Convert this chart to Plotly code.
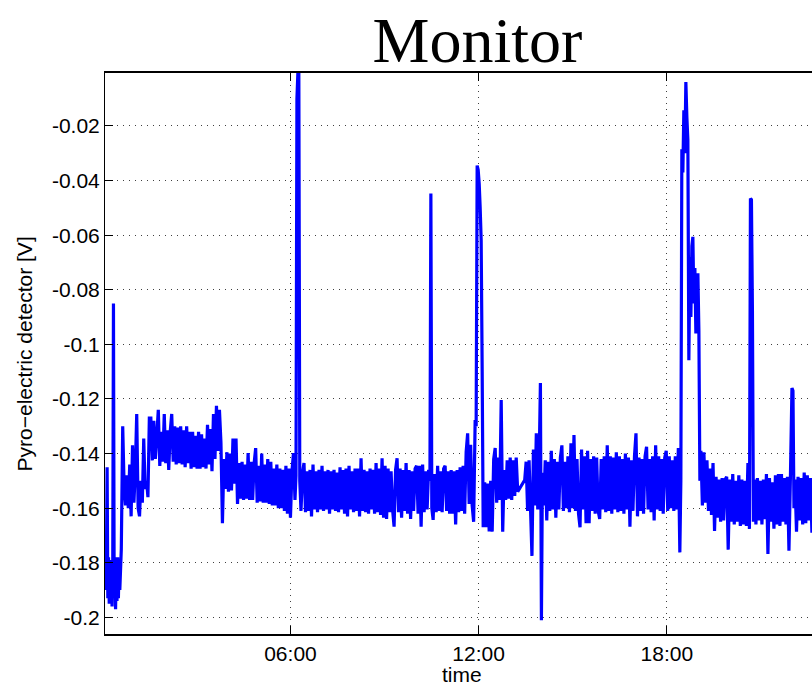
import pandas as pd
import plotly.graph_objects as go

BASE_DAY = "2013-01-01"

# ---- data: (start hour, end hour, sampled values) ------------------------
seg_a_hours = (0.086, 0.558)
seg_a_vals = [-0.174, -0.190, -0.180, -0.145, -0.193, -0.178, -0.195, -0.180,
              -0.192, -0.179, -0.196, -0.181, -0.085, -0.191, -0.178, -0.197,
              -0.180, -0.194, -0.178, -0.193, -0.180, -0.190]

seg_b_hours = (0.606, 1.500)
seg_b_vals = [-0.175, -0.130, -0.152, -0.159, -0.148, -0.160, -0.144, -0.163,
              -0.137, -0.158, -0.146, -0.1255, -0.160, -0.163, -0.150, -0.158,
              -0.1345, -0.153, -0.150, -0.156, -0.127]

seg_c_hours = (1.548, 3.878)
seg_c_vals = [-0.127, -0.1425, -0.128, -0.142, -0.1335, -0.124, -0.1445, -0.132,
              -0.143, -0.1255, -0.1435, -0.1315, -0.146, -0.132, -0.1255, -0.143,
              -0.130, -0.144, -0.1305, -0.1435, -0.130, -0.144, -0.1315, -0.145,
              -0.130, -0.1435, -0.132, -0.1455, -0.132, -0.145, -0.1335, -0.1455,
              -0.132, -0.1455, -0.133, -0.145, -0.1345, -0.1455, -0.1295, -0.144,
              -0.131, -0.1465, -0.1255, -0.142, -0.1225, -0.139, -0.124, -0.136,
              -0.1655, -0.142]

seg_d_hours = (3.926, 6.144)
seg_d_vals = [-0.153, -0.1395, -0.154, -0.140, -0.1535, -0.1345, -0.151, -0.1345,
              -0.1585, -0.1435, -0.1565, -0.143, -0.157, -0.144, -0.1565, -0.1398,
              -0.157, -0.143, -0.157, -0.1435, -0.138, -0.158, -0.1445, -0.1575,
              -0.140, -0.158, -0.144, -0.158, -0.142, -0.1585, -0.143, -0.159,
              -0.1455, -0.159, -0.144, -0.160, -0.1455, -0.160, -0.146, -0.161,
              -0.1445, -0.162, -0.1455, -0.1635, -0.1465, -0.1398, -0.157]

spike_0610_hours = (6.176, 6.297)
spike_0610_vals = [-0.148, -0.010, -0.0005, -0.0005, -0.150]

seg_e_hours = (6.336, 10.405)
seg_e_vals = [-0.161, -0.147, -0.1435, -0.1615, -0.1465, -0.161, -0.146, -0.163,
              -0.144, -0.1605, -0.1465, -0.1615, -0.146, -0.1605, -0.1445, -0.161,
              -0.1465, -0.1605, -0.146, -0.162, -0.1465, -0.1605, -0.146, -0.161,
              -0.147, -0.1615, -0.145, -0.1605, -0.146, -0.162, -0.1455, -0.163,
              -0.1445, -0.1605, -0.1465, -0.1615, -0.1455, -0.161, -0.1455, -0.163,
              -0.1417, -0.161, -0.146, -0.1615, -0.1465, -0.162, -0.1455, -0.1605,
              -0.146, -0.162, -0.1435, -0.1615, -0.1455, -0.1625, -0.1417, -0.1635,
              -0.1445, -0.164, -0.1455, -0.1615, -0.1465, -0.1605, -0.1668, -0.146,
              -0.1417, -0.1615, -0.1455, -0.1635, -0.146, -0.161, -0.1435, -0.162,
              -0.146, -0.164, -0.1465, -0.161, -0.1455, -0.1445, -0.162, -0.1445,
              -0.1668, -0.144, -0.1615, -0.1465, -0.1605, -0.146]

spike_1028_hours = (10.447, 10.507)
spike_1028_vals = [-0.150, -0.0447, -0.160]

seg_f_hours = (10.549, 11.889)
seg_f_vals = [-0.1643, -0.1475, -0.1615, -0.1445, -0.161, -0.1465, -0.1615, -0.1455,
              -0.1445, -0.161, -0.1465, -0.162, -0.146, -0.162, -0.1465, -0.166,
              -0.146, -0.1615, -0.145, -0.161, -0.1445, -0.162, -0.1395, -0.1326,
              -0.1585, -0.1368, -0.159, -0.165, -0.1277]

spike_1200_hours = (11.921, 12.145)
spike_1200_vals = [-0.130, -0.0345, -0.036, -0.041, -0.050, -0.062, -0.110, -0.167]

seg_g_hours = (12.193, 13.246)
seg_g_vals = [-0.1505, -0.167, -0.151, -0.1685, -0.150, -0.1686, -0.142, -0.138,
              -0.158, -0.1415, -0.157, -0.1204, -0.1686, -0.146, -0.157, -0.1425,
              -0.1565, -0.1415, -0.157, -0.1425, -0.1555, -0.1415, -0.154]

seg_h_hours = (13.469, 13.932)
seg_h_vals = [-0.1497, -0.143, -0.161, -0.1425, -0.160, -0.1775, -0.1385, -0.159,
              -0.1326, -0.1605, -0.142]

spike_1400_hours = (13.970, 14.034)
spike_1400_vals = [-0.1142, -0.2011, -0.147]

seg_i_hours = (14.076, 18.416)
seg_i_vals = [-0.159, -0.1425, -0.1645, -0.143, -0.161, -0.139, -0.1605, -0.142,
              -0.1635, -0.143, -0.1605, -0.1415, -0.137, -0.161, -0.143, -0.160,
              -0.141, -0.1615, -0.1362, -0.160, -0.1332, -0.161, -0.142, -0.162,
              -0.167, -0.1385, -0.1605, -0.141, -0.1655, -0.139, -0.1655, -0.142,
              -0.161, -0.141, -0.162, -0.1415, -0.161, -0.164, -0.142, -0.1605,
              -0.141, -0.1615, -0.137, -0.161, -0.141, -0.162, -0.1415, -0.1605,
              -0.1395, -0.1615, -0.141, -0.161, -0.142, -0.162, -0.140, -0.1605,
              -0.1415, -0.1668, -0.1425, -0.161, -0.141, -0.1326, -0.163, -0.1415,
              -0.161, -0.142, -0.162, -0.141, -0.1375, -0.1605, -0.142, -0.1615,
              -0.141, -0.1645, -0.137, -0.1605, -0.141, -0.161, -0.142, -0.162,
              -0.1415, -0.139, -0.161, -0.141, -0.160, -0.1425, -0.161, -0.141,
              -0.1605, -0.138, -0.1762]

spike_1830_hours = (18.448, 19.055)
spike_1830_vals = [-0.150, -0.0285, -0.037, -0.0143, -0.030, -0.0039, -0.0167, -0.0252,
                   -0.1058, -0.068, -0.090, -0.064, -0.0606, -0.085, -0.072, -0.096,
                   -0.078, -0.074, -0.095, -0.150]

seg_j_hours = (19.087, 20.635)
seg_j_vals = [-0.139, -0.159, -0.1395, -0.158, -0.1425, -0.161, -0.1455, -0.1625,
              -0.1435, -0.1684, -0.1485, -0.1635, -0.1495, -0.165, -0.149, -0.1645,
              -0.1495, -0.1485, -0.1752, -0.1495, -0.165, -0.1475, -0.166, -0.150,
              -0.165, -0.148, -0.1665, -0.1495, -0.166, -0.150, -0.1665, -0.1435,
              -0.1676]

spike_2040_hours = (20.667, 20.762)
spike_2040_vals = [-0.0466, -0.047, -0.0875, -0.165]

seg_k_hours = (20.794, 21.943)
seg_k_vals = [-0.1495, -0.166, -0.149, -0.1645, -0.150, -0.166, -0.1495, -0.164,
              -0.1475, -0.1768, -0.149, -0.165, -0.1505, -0.1675, -0.148, -0.166,
              -0.1475, -0.1665, -0.1475, -0.165, -0.149, -0.166, -0.1485, -0.1756,
              -0.148]

spike_2200_hours = (21.991, 22.055)
spike_2200_vals = [-0.116, -0.117, -0.160]

seg_l_hours = (22.087, 22.726)
seg_l_vals = [-0.1495, -0.1686, -0.1485, -0.1645, -0.149, -0.166, -0.147, -0.1655,
              -0.148, -0.1645, -0.149, -0.169, -0.1495, -0.1645]

segments = [
    (seg_a_hours, seg_a_vals), (seg_b_hours, seg_b_vals), (seg_c_hours, seg_c_vals),
    (seg_d_hours, seg_d_vals), (spike_0610_hours, spike_0610_vals),
    (seg_e_hours, seg_e_vals), (spike_1028_hours, spike_1028_vals),
    (seg_f_hours, seg_f_vals), (spike_1200_hours, spike_1200_vals),
    (seg_g_hours, seg_g_vals), (seg_h_hours, seg_h_vals),
    (spike_1400_hours, spike_1400_vals), (seg_i_hours, seg_i_vals),
    (spike_1830_hours, spike_1830_vals), (seg_j_hours, seg_j_vals),
    (spike_2040_hours, spike_2040_vals), (seg_k_hours, seg_k_vals),
    (spike_2200_hours, spike_2200_vals), (seg_l_hours, seg_l_vals),
]

x_range_hours = (0.0861, 22.630)
y_range = (-0.2061, -0.0006)
y_tick_vals = [-0.2, -0.18, -0.16, -0.14, -0.12, -0.1, -0.08, -0.06, -0.04, -0.02]
y_tick_text = ["-0.2", "-0.18", "-0.16", "-0.14", "-0.12", "-0.1", "-0.08",
               "-0.06", "-0.04", "-0.02"]
x_tick_hours = [6, 12, 18]
x_tick_text = ["06:00", "12:00", "18:00"]

# ---- build sample times -------------------------------------------------
base = pd.Timestamp(BASE_DAY)
times, values = [], []
for (h0, h1), vals in segments:
    n = len(vals)
    for i, v in enumerate(vals):
        h = h0 + (h1 - h0) * i / (n - 1)
        times.append(base + pd.Timedelta(hours=h))
        values.append(v)

to_t = lambda h: base + pd.Timedelta(hours=h)

fig = go.Figure()
fig.add_trace(go.Scatter(x=times, y=values, mode="lines",
                         line=dict(color="#0000FF", width=3.2, simplify=False),
                         showlegend=False, hoverinfo="skip"))

FONT = "Liberation Sans, Arial, sans-serif"
tick_font = dict(family=FONT, size=21, color="black")
label_font = dict(family=FONT, size=21, color="black")
grid_dash = "1px,5px"

fig.update_layout(
    width=812, height=686,
    margin=dict(l=105, r=0, t=73, b=52),
    paper_bgcolor="white", plot_bgcolor="white",
    title=dict(text="Monitor", x=477.5 / 812, xref="container", xanchor="center",
               y=1 - 40 / 686, yref="container", yanchor="middle",
               font=dict(family="Liberation Serif, Times New Roman, serif",
                         size=64, color="black")),
    annotations=[
        dict(text="time", xref="paper", yref="paper", x=0.5045, y=-0.0725,
             xanchor="center", yanchor="middle", showarrow=False, font=label_font),
        dict(text="Pyro−electric detector [V]", xref="paper", yref="paper",
             x=-0.1132, y=0.5, textangle=-90, xanchor="center", yanchor="middle",
             showarrow=False, font=label_font),
    ],
)
fig.update_xaxes(
    type="date", automargin=False,
    range=[to_t(x_range_hours[0]), to_t(x_range_hours[1])],
    tickvals=[to_t(h) for h in x_tick_hours], ticktext=x_tick_text,
    ticks="inside", ticklen=8, tickcolor="black", tickwidth=1,
    showline=True, linecolor="black", linewidth=2, mirror="ticks",
    showgrid=True, gridcolor="rgba(0,0,0,0.75)", gridwidth=1, griddash=grid_dash,
    zeroline=False, tickfont=tick_font,
)
fig.update_yaxes(
    automargin=False,
    range=list(y_range),
    tickvals=y_tick_vals, ticktext=y_tick_text,
    ticks="inside", ticklen=8, tickcolor="black", tickwidth=1,
    showline=True, linecolor="black", linewidth=1, mirror=False,
    showgrid=True, gridcolor="rgba(0,0,0,0.75)", gridwidth=1, griddash=grid_dash,
    zeroline=False, tickfont=tick_font,
)

# remove the browser's default 8px page margin so the figure fills the window
fig.write_html("out.html",
               config={"displayModeBar": False},
               post_script="document.body.style.margin='0';document.body.style.overflow='hidden';")
